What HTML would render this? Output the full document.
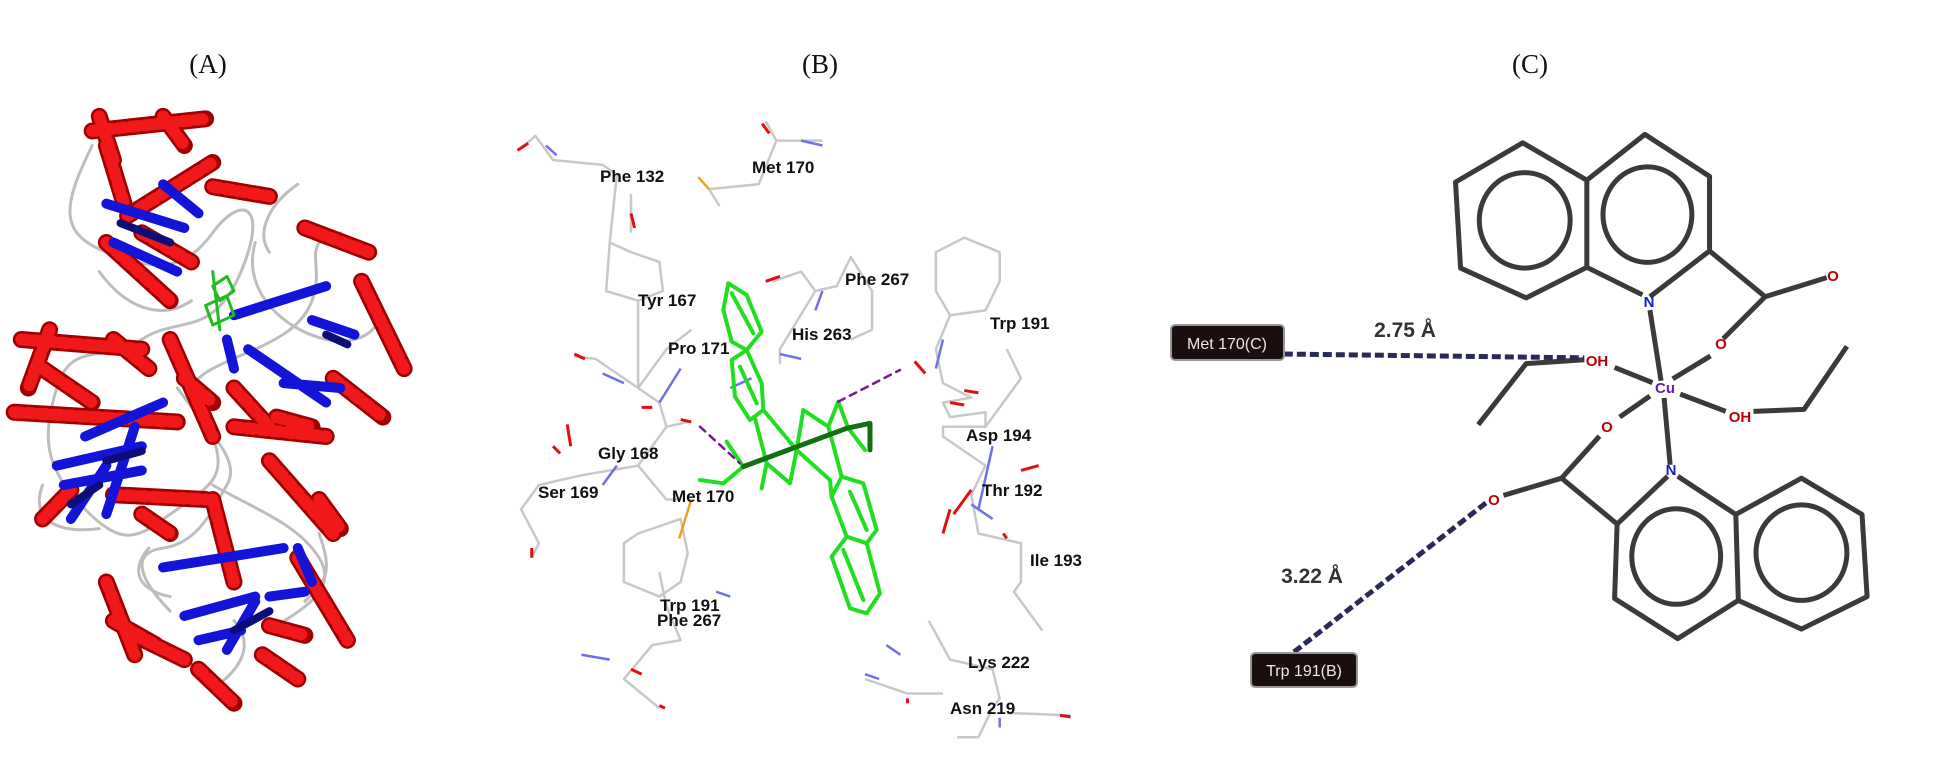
<!DOCTYPE html>
<html><head><meta charset="utf-8"><style>
html,body{margin:0;padding:0;background:#fff;}
svg{display:block;}
.lbl{font-family:"Liberation Sans",sans-serif;font-weight:bold;font-size:17px;fill:#111;}
.t{font-family:"Liberation Serif",serif;font-size:27px;fill:#111;}
.at{font-family:"Liberation Sans",sans-serif;font-weight:bold;font-size:15px;}
</style></head><body>
<svg width="1939" height="757" viewBox="0 0 1939 757" xmlns="http://www.w3.org/2000/svg">
<rect width="1939" height="757" fill="#fff"/>
<text class="t" x="208" y="73" text-anchor="middle">(A)</text>
<text class="t" x="820" y="73" text-anchor="middle">(B)</text>
<text class="t" x="1530" y="73" text-anchor="middle">(C)</text>

<!-- Panel A protein (zoom2 coords) -->
<g transform="scale(0.709,0.485)" fill="none" stroke-linecap="round" stroke-linejoin="round">
 <g stroke="#bdbdbd" stroke-width="3" vector-effect="non-scaling-stroke">
  <path vector-effect="non-scaling-stroke" d="M130,300 C90,420 80,480 150,520 S260,560 300,480 S380,420 340,560 S250,650 200,700 S100,700 80,800 S60,960 120,1050 S200,1100 250,1050 S320,980 300,900 S250,800 300,760 S420,700 440,620 S420,500 480,480"/>
  <path vector-effect="non-scaling-stroke" d="M360,500 C340,600 400,680 460,700 S560,650 520,600 M250,800 C300,900 340,950 320,1000 S280,1120 230,1130 S200,1200 240,1260 M300,1000 C360,1050 420,1080 450,1150 S420,1260 380,1300 M140,560 C180,640 230,660 270,620 M420,380 C380,420 360,480 380,520 M210,1130 C180,1180 200,1220 240,1230 M330,1280 C360,1330 340,1380 300,1420 M60,1000 C40,1080 90,1100 140,1090 M450,1100 C470,1180 460,1200 430,1240"/>
 </g>
 <g stroke="#a00000" stroke-width="17" vector-effect="non-scaling-stroke">
  <path vector-effect="non-scaling-stroke" d="M130,270 L290,245 M150,300 L175,420 M180,445 L300,335 M300,385 L380,405 M150,500 L240,620 M200,480 L270,540 M430,470 L520,520 M510,580 L570,760 M470,780 L540,860 M330,880 L460,900 M30,700 L200,720 M20,850 L250,870 M60,760 L130,830 M240,700 L300,900 M160,1020 L290,1030 M380,950 L470,1100 M420,1150 L490,1320 M150,1200 L190,1350 M190,1310 L260,1360 M280,1380 L330,1450 M370,1350 L420,1400 M300,1030 L330,1200 M200,1060 L240,1100 M140,240 L160,330 M230,240 L260,300 M70,680 L40,800 M160,700 L210,760 M260,780 L300,830 M330,800 L380,880 M390,860 L440,880 M100,1010 L60,1070 M160,1280 L220,1330 M380,1290 L430,1310 M450,1030 L480,1090"/>
 </g>
 <g stroke="#f01818" stroke-width="12" stroke-dasharray="7 6" vector-effect="non-scaling-stroke">
  <path vector-effect="non-scaling-stroke" d="M130,270 L290,245 M150,300 L175,420 M180,445 L300,335 M300,385 L380,405 M150,500 L240,620 M200,480 L270,540 M430,470 L520,520 M510,580 L570,760 M470,780 L540,860 M330,880 L460,900 M30,700 L200,720 M20,850 L250,870 M60,760 L130,830 M240,700 L300,900 M160,1020 L290,1030 M380,950 L470,1100 M420,1150 L490,1320 M150,1200 L190,1350 M190,1310 L260,1360 M280,1380 L330,1450 M370,1350 L420,1400 M300,1030 L330,1200 M200,1060 L240,1100 M140,240 L160,330 M230,240 L260,300 M70,680 L40,800 M160,700 L210,760 M260,780 L300,830 M330,800 L380,880 M390,860 L440,880 M100,1010 L60,1070 M160,1280 L220,1330 M380,1290 L430,1310 M450,1030 L480,1090"/>
 </g>
 <g stroke="#1414d8" stroke-width="10" vector-effect="non-scaling-stroke">
  <path vector-effect="non-scaling-stroke" d="M150,420 L260,470 M160,500 L250,560 M230,380 L280,440 M330,650 L460,590 M320,700 L330,760 M350,720 L460,830 M400,790 L480,800 M440,660 L500,690 M80,960 L200,920 M90,1000 L200,970 M100,1070 L150,960 M150,1060 L190,880 M120,900 L230,830 M230,1170 L400,1130 M260,1270 L360,1230 M280,1320 L340,1300 M320,1340 L360,1240 M380,1230 L430,1220 M420,1130 L440,1200"/>
 </g>
 <g stroke="#0d0d7a" stroke-width="8" vector-effect="non-scaling-stroke">
  <path vector-effect="non-scaling-stroke" d="M170,460 L240,500 M100,1040 L140,1000 M330,1300 L380,1260 M460,690 L490,710 M200,930 L150,950"/>
 </g>
 <g stroke="#22bb22" stroke-width="3" vector-effect="non-scaling-stroke">
  <path vector-effect="non-scaling-stroke" d="M300,590 L320,570 L330,600 L310,620 Z M290,630 L320,610 L330,650 L300,670 Z M300,560 L310,680"/>
 </g>
</g>

<!-- Panel B residues (zoom2 coords) -->
<g transform="scale(0.709,0.485)" fill="none" stroke-linejoin="round">
 <g stroke="#c8c8c8" stroke-width="2.5" vector-effect="non-scaling-stroke">
  <path vector-effect="non-scaling-stroke" d="M740,300 L755,280 L780,330 L850,340 L870,360 L860,500 L890,520 L930,540 L935,600 L900,620 L900,800 L930,830 L940,880 L900,960 L940,1030 L960,1030 M860,500 L855,600 L900,620 M890,400 L890,480 M1080,250 L1095,290 L1160,290 M1095,290 L1070,380 L1000,390 L1015,425 M900,800 L940,720 L975,680 M900,800 L840,740 L810,735 M940,880 L970,870 M900,960 L820,980 L760,1000 L735,1050 L760,1120 L750,1150 M1090,580 L1130,560 L1150,600 L1180,590 L1200,530 L1230,600 L1230,680 L1200,700 M1150,600 L1100,720 L1100,750 M1360,490 L1410,520 L1410,580 L1390,640 L1340,650 L1320,600 L1320,520 Z M1340,650 L1320,720 L1330,790 L1370,820 L1330,830 L1340,860 L1390,850 L1390,880 L1440,780 L1420,720 M1390,880 L1330,880 L1330,900 L1390,960 L1370,1020 L1380,1100 L1440,1120 L1440,1200 L1430,1220 L1470,1300 M900,1100 L960,1070 L970,1140 L960,1200 L930,1230 L880,1200 L880,1120 Z M930,1180 L940,1250 L960,1320 L920,1330 L880,1400 L930,1460 M1310,1280 L1340,1360 L1400,1380 L1410,1440 L1400,1460 L1380,1520 L1350,1520 M1220,1400 L1280,1430 L1330,1430 M1420,1470 L1510,1475"/>
 </g>
 <g stroke="#7070ee" stroke-width="2.5" vector-effect="non-scaling-stroke">
  <path vector-effect="non-scaling-stroke" d="M770,300 L785,320 M1130,290 L1160,300 M850,770 L880,790 M930,830 L960,760 M870,960 L850,1000 M1160,600 L1150,640 M1100,730 L1130,740 M1030,800 L1060,780 M1330,700 L1320,760 M1400,920 L1380,1050 M1370,1040 L1400,1070 M1010,1220 L1030,1230 M820,1350 L860,1360 M1250,1330 L1270,1350 M1220,1390 L1240,1400 M1410,1480 L1410,1500"/>
 </g>
 <g stroke="#e01010" stroke-width="3" vector-effect="non-scaling-stroke">
  <path vector-effect="non-scaling-stroke" d="M730,310 L745,295 M1075,255 L1085,275 M890,440 L895,470 M1080,580 L1100,570 M810,730 L825,740 M905,840 L920,840 M960,865 L975,870 M800,875 L805,920 M780,920 L790,935 M1290,745 L1305,770 M1340,830 L1360,835 M1360,805 L1380,810 M1440,970 L1465,960 M1340,1050 L1330,1100 M1345,1060 L1370,1010 M750,1130 L750,1150 M890,1380 L905,1390 M930,1455 L938,1460 M1280,1440 L1280,1450 M1495,1475 L1510,1478 M1415,1100 L1420,1110"/>
 </g>
 <path vector-effect="non-scaling-stroke" stroke="#f0a020" stroke-width="2.5" d="M985,365 L1000,390 M975,1030 L958,1110"/>
</g>

<!-- ligand -->
<g transform="translate(700,250) scale(0.3333)" fill="none" stroke="#22dd22" stroke-width="4" stroke-linejoin="round" stroke-linecap="round">
 <path vector-effect="non-scaling-stroke" d="M85,100 L140,135 L185,245 L140,300 L95,275 L70,180 Z M95,130 L160,250 M95,330 L140,300 L185,400 L190,480 L150,510 L105,440 Z M120,350 L170,460 M190,480 L290,600 M165,505 L200,640 L270,700 L290,600 M200,640 L185,715 M130,650 L80,575 M130,650 L70,700 L0,690 M290,600 L310,480 L385,530 L415,455 L445,535 L495,600 M290,600 L390,690 L395,740 M385,530 L425,680 M425,680 L490,700 L530,840 L500,880 L440,860 L395,740 Z M450,725 L500,840 M440,860 L500,880 L540,1030 L500,1090 L450,1075 L395,920 Z M430,900 L490,1050"/>
 <path vector-effect="non-scaling-stroke" stroke="#126f12" stroke-width="5" d="M130,650 L440,535 L510,520 L510,600"/>
 <path vector-effect="non-scaling-stroke" stroke="#7a1a8a" stroke-width="2.5" stroke-dasharray="7 6" d="M0,530 L120,640 M415,455 L600,360"/>
</g>

<g class="lbl">
<text x="600" y="182">Phe 132</text>
<text x="752" y="173">Met 170</text>
<text x="638" y="306">Tyr 167</text>
<text x="845" y="285">Phe 267</text>
<text x="990" y="329">Trp 191</text>
<text x="792" y="340">His 263</text>
<text x="668" y="354">Pro 171</text>
<text x="966" y="441">Asp 194</text>
<text x="598" y="459">Gly 168</text>
<text x="538" y="498">Ser 169</text>
<text x="672" y="502">Met 170</text>
<text x="982" y="496">Thr 192</text>
<text x="1030" y="566">Ile 193</text>
<text x="660" y="611">Trp 191</text>
<text x="657" y="626">Phe 267</text>
<text x="968" y="668">Lys 222</text>
<text x="950" y="714">Asn 219</text>
</g>

<!-- Panel C (zoom1 coords) -->
<g transform="translate(1150,100) scale(0.505,0.382)" fill="none" stroke-linejoin="round">
 <g stroke="#3a3a3a" stroke-width="5">
  <path vector-effect="non-scaling-stroke" d="M738,112 L865,210 L865,438 L745,518 L615,440 L605,215 Z M865,210 L980,90 L1108,200 L1108,395 L990,515 M865,438 L975,510 M1108,395 L1218,515 L1340,465 M1218,515 L1135,625 M1110,670 L1035,730 M990,550 L1012,735 M920,700 L995,740 M860,680 L745,690 L650,850 M1050,770 L1140,815 M1195,815 L1295,810 L1380,645 M990,775 L930,830 M890,880 L815,990 L700,1035 M815,990 L925,1110 L1025,985 M1045,985 L1160,1085 L1165,1310 L1045,1410 L920,1305 L925,1110 M1160,1085 L1290,990 L1410,1085 L1420,1300 L1290,1385 L1165,1310 M1030,955 L1018,780"/>
  <ellipse vector-effect="non-scaling-stroke" cx="742" cy="315" rx="90" ry="125"/>
  <ellipse vector-effect="non-scaling-stroke" cx="985" cy="300" rx="88" ry="125"/>
  <ellipse vector-effect="non-scaling-stroke" cx="1042" cy="1195" rx="88" ry="125"/>
  <ellipse vector-effect="non-scaling-stroke" cx="1290" cy="1185" rx="90" ry="125"/>
 </g>
 <path vector-effect="non-scaling-stroke" stroke="#2a2a5a" stroke-width="5" stroke-dasharray="9 4" d="M265,665 L860,675 M285,1445 L670,1050"/>
</g>
<g class="at" text-anchor="middle">
<text x="1649" y="307" fill="#1020d0">N</text>
<text x="1671" y="475" fill="#1020d0">N</text>
<text x="1665" y="393" fill="#6020b0">Cu</text>
<text x="1833" y="281" fill="#c00000">O</text>
<text x="1721" y="349" fill="#c00000">O</text>
<text x="1607" y="432" fill="#c00000">O</text>
<text x="1494" y="505" fill="#c00000">O</text>
<text x="1597" y="366" fill="#c00000">OH</text>
<text x="1740" y="422" fill="#c00000">OH</text>
</g>
<rect x="1171" y="325" width="113" height="35" rx="4" fill="#1a0e0e" stroke="#999" stroke-width="2"/>
<text x="1227" y="349" text-anchor="middle" font-family="Liberation Sans,sans-serif" font-size="16" fill="#f0e6e6">Met 170(C)</text>
<rect x="1251" y="653" width="106" height="34" rx="4" fill="#1a0e0e" stroke="#999" stroke-width="2"/>
<text x="1304" y="676" text-anchor="middle" font-family="Liberation Sans,sans-serif" font-size="16" fill="#f0e6e6">Trp 191(B)</text>
<text x="1405" y="337" text-anchor="middle" font-family="Liberation Sans,sans-serif" font-weight="bold" font-size="21" fill="#333">2.75 Å</text>
<text x="1312" y="583" text-anchor="middle" font-family="Liberation Sans,sans-serif" font-weight="bold" font-size="21" fill="#333">3.22 Å</text>
</svg>
</body></html>
